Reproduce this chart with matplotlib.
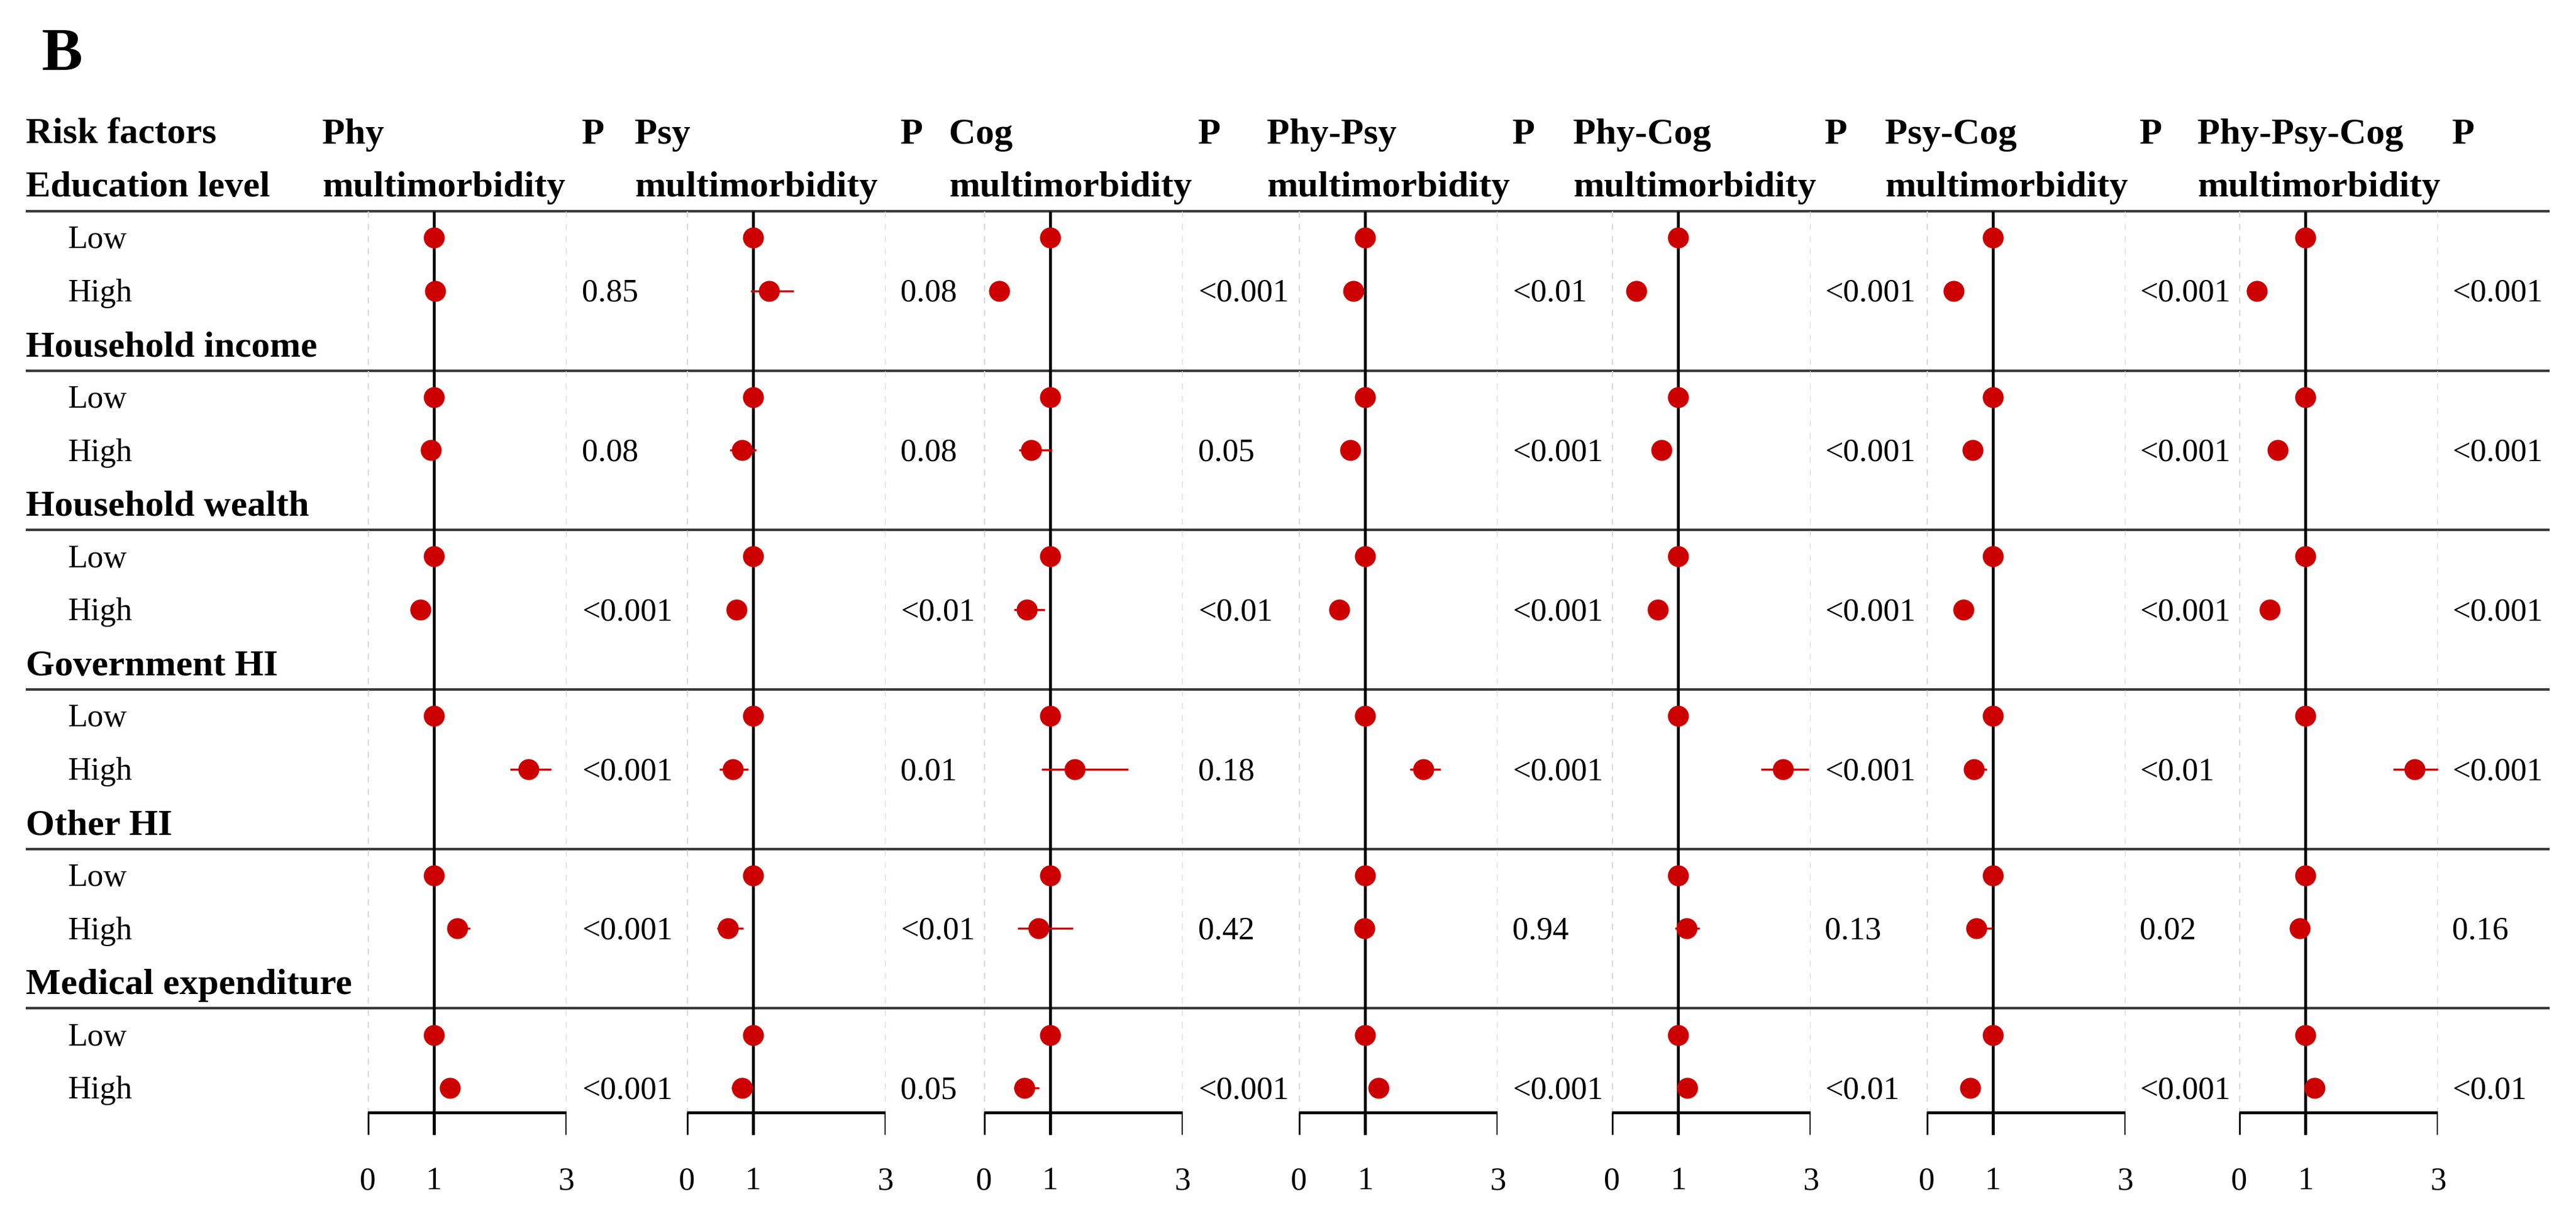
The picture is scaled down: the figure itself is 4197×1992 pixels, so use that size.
import numpy as np
import matplotlib.pyplot as plt

plt.rcParams['font.family'] = ['Liberation Serif', 'DejaVu Serif']

# ---- data ----
groups = ["Education level", "Household income", "Household wealth",
          "Government HI", "Other HI", "Medical expenditure"]
levels = ["Low", "High"]
titles = ["Phy", "Psy", "Cog", "Phy-Psy", "Phy-Cog", "Psy-Cog", "Phy-Psy-Cog"]
ticks = [0, 1, 3]
ref_or = 1.0  # "Low" is the reference level

# odds ratio (95% CI) of "High" vs "Low", one value per group
phy_or = [1.02, 0.95, 0.80, 2.43, 1.35, 1.24]
phy_lo = [0.98, 0.90, 0.76, 2.15, 1.20, 1.12]
phy_hi = [1.06, 1.00, 0.85, 2.77, 1.55, 1.36]
phy_p = ["0.85", "0.08", "<0.001", "<0.001", "<0.001", "<0.001"]

psy_or = [1.24, 0.83, 0.75, 0.69, 0.62, 0.83]
psy_lo = [0.96, 0.65, 0.65, 0.49, 0.45, 0.68]
psy_hi = [1.61, 1.05, 0.86, 0.93, 0.85, 1.00]
psy_p = ["0.08", "0.08", "<0.01", "0.01", "<0.01", "0.05"]

cog_or = [0.23, 0.71, 0.65, 1.37, 0.82, 0.61]
cog_lo = [0.12, 0.53, 0.45, 0.87, 0.51, 0.45]
cog_hi = [0.35, 1.03, 0.92, 2.18, 1.34, 0.83]
cog_p = ["<0.001", "0.05", "<0.01", "0.18", "0.42", "<0.001"]

phypsy_or = [0.82, 0.78, 0.61, 1.88, 0.99, 1.20]
phypsy_lo = [0.70, 0.68, 0.50, 1.68, 0.90, 1.08]
phypsy_hi = [0.95, 0.90, 0.73, 2.14, 1.10, 1.33]
phypsy_p = ["<0.01", "<0.001", "<0.001", "<0.001", "0.94", "<0.001"]

phycog_or = [0.37, 0.75, 0.69, 2.58, 1.13, 1.14]
phycog_lo = [0.28, 0.65, 0.60, 2.25, 0.95, 1.02]
phycog_hi = [0.48, 0.86, 0.79, 2.97, 1.32, 1.27]
phycog_p = ["<0.001", "<0.001", "<0.001", "<0.001", "0.13", "<0.01"]

psycog_or = [0.41, 0.69, 0.56, 0.71, 0.75, 0.66]
psycog_lo = [0.32, 0.60, 0.48, 0.58, 0.60, 0.57]
psycog_hi = [0.52, 0.80, 0.66, 0.91, 0.99, 0.77]
psycog_p = ["<0.001", "<0.001", "<0.001", "<0.01", "0.02", "<0.001"]

all3_or = [0.27, 0.58, 0.46, 2.65, 0.92, 1.14]
all3_lo = [0.18, 0.48, 0.37, 2.32, 0.80, 1.02]
all3_hi = [0.37, 0.68, 0.56, 3.00, 1.05, 1.27]
all3_p = ["<0.001", "<0.001", "<0.001", "<0.001", "0.16", "<0.01"]

panels = [
    (phy_or, phy_lo, phy_hi, phy_p),
    (psy_or, psy_lo, psy_hi, psy_p),
    (cog_or, cog_lo, cog_hi, cog_p),
    (phypsy_or, phypsy_lo, phypsy_hi, phypsy_p),
    (phycog_or, phycog_lo, phycog_hi, phycog_p),
    (psycog_or, psycog_lo, psycog_hi, psycog_p),
    (all3_or, all3_lo, all3_hi, all3_p),
]

# ---- layout (pixels of the 4197x1992 canvas) ----
W, H = 4197, 1992
row0, row_h = 214, 86.56          # centre of first row, row pitch
ytop = -row0 / row_h
ybot = (H - row0) / row_h
axis_x0 = [599, 1119, 1603, 2116, 2626, 3139, 3648]
axis_w = 324
head_x = [525, 1034, 1546, 2064, 2563, 3071, 3580]
p_x = [948, 1467, 1952, 2464, 2973, 3486, 3995]

red = "#CC0000"
fs_b, fs = 14.5, 12.6
# text is placed on its baseline, half a cap height below the row centre
dy_b, dy = 0.23, 0.20
axis_y = 18.46
tick_end = 18.88

fig = plt.figure(figsize=(W / 300, H / 300), dpi=300)
bg = fig.add_axes([0, 0, 1, 1])
bg.set_xlim(0, W)
bg.set_ylim(ybot, ytop)
bg.axis("off")

bg.text(67, -1.17, "B", fontsize=24, fontweight="bold", va="baseline")

# header
bg.text(42, dy_b, "Risk factors", fontsize=fs_b, fontweight="bold", va="baseline")
for k, t in enumerate(titles):
    bg.text(head_x[k], dy_b, t, fontsize=fs_b, fontweight="bold", va="baseline")
    bg.text(head_x[k], 1 + dy_b, "multimorbidity", fontsize=fs_b,
            fontweight="bold", va="baseline")
    bg.text(p_x[k], dy_b, "P", fontsize=fs_b, fontweight="bold", va="baseline")

# row labels and separators
for g, name in enumerate(groups):
    r = 1 + 3 * g
    bg.text(42, r + dy_b, name, fontsize=fs_b, fontweight="bold", va="baseline")
    bg.hlines(r + 0.5, 42, 4154, color="#3a3a3a", lw=1.0)
    for j, lev in enumerate(levels):
        bg.text(110, r + 1 + j + dy, lev, fontsize=fs, va="baseline")

low_rows = np.array([2 + 3 * g for g in range(len(groups))])
high_rows = low_rows + 1

for k, (orv, lo, hi, pv) in enumerate(panels):
    ax = fig.add_axes([axis_x0[k] / W, 0, axis_w / W, 1])
    ax.set_xlim(0, 3)
    ax.set_ylim(ybot, ytop)
    ax.axis("off")
    ax.patch.set_alpha(0)

    orv, lo, hi = np.array(orv), np.array(lo), np.array(hi)
    ax.vlines([0, 3], 1.5, axis_y, color="#d9d9d9", lw=0.8,
              linestyles=(0, (3, 3)), zorder=1)
    ax.vlines(1, 1.5, tick_end, color="black", lw=1.1, zorder=2)
    ax.hlines(axis_y, 0, 3, color="black", lw=1.1, zorder=2)
    ax.vlines(ticks, axis_y, tick_end, color="black", lw=1.1, zorder=2)
    for t in ticks:
        ax.text(t, 19.71 + dy, str(t), fontsize=fs, ha="center", va="baseline")

    ax.plot(np.full(len(low_rows), ref_or), low_rows, "o", color=red,
            ms=8.2, mec="none", zorder=3, clip_on=False)
    ax.errorbar(orv, high_rows, xerr=[orv - lo, hi - orv], fmt="o",
                color=red, ms=8.2, mec="none", elinewidth=0.8, capsize=0,
                zorder=3, clip_on=False)

    for r, p in zip(high_rows, pv):
        bg.text(p_x[k], r + dy, p, fontsize=fs, va="baseline")

fig.savefig("out.png", dpi=300)
